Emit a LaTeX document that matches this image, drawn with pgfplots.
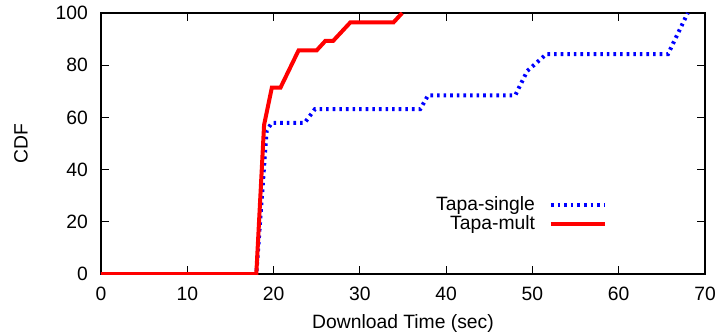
\documentclass[border=0pt]{standalone}
\usepackage{fontspec}
\setmainfont{Liberation Sans}
\usepackage{pgfplots}
\pgfplotsset{compat=1.18}
\begin{document}
\fontsize{19.3bp}{23bp}\selectfont
\begin{tikzpicture}
\begin{axis}[
  scale only axis, width=604bp, height=261bp,
  xmin=0, xmax=70, ymin=0, ymax=100,
  xtick={0,10,...,70}, ytick={0,20,...,100},
  /pgf/number format/assume math mode=true,
  axis line style={line width=1.1bp, black},
  major tick length=8bp,
  every tick/.style={line width=1.1bp, black},
  tick align=inside,
  xticklabel style={anchor=base, inner sep=0pt, yshift=-26bp},
  yticklabel style={anchor=east, inner sep=0pt, xshift=-13bp},
  xlabel={Download Time (sec)},
  ylabel={CDF},
  xlabel style={at={(axis description cs:0.5,-0.2107)}, anchor=base, inner sep=0pt},
  ylabel style={at={(axis description cs:-0.1325,0.5)}, anchor=center, inner sep=0pt},
  legend plot pos=right,
  legend cell align=right,
  legend image code/.code={\draw[#1] (0bp,0bp) -- (54bp,0bp);},
  legend style={at={(axis description cs:0.838,0.228)}, anchor=east, draw=none, fill=none,
    inner sep=0pt, column sep=14bp, row sep=1.5bp, nodes={inner sep=0pt}},
]
\addplot[blue, line width=4bp, dash pattern=on 2.6bp off 4bp] coordinates {
(0,0) (18,0) (19.2,55) (19.8,57.9) (23.6,57.9) (24.8,63.2) (37,63.2) (37.9,68.4)
(48,68.4) (49.4,77.8) (51.6,84.2) (65.7,84.2) (68,100)
};
\addlegendentry{Tapa-single}
\addplot[red, line width=4bp] coordinates {
(0,0) (18,0) (18.9,57.1) (19.8,71.4) (20.8,71.4) (22.9,85.7) (25,85.7) (26,89.3)
(26.9,89.3) (28.9,96.4) (33.9,96.4) (34.9,100)
};
\addlegendentry{Tapa-mult}
\coordinate (sw) at (rel axis cs:0,0);
\coordinate (ne) at (rel axis cs:1,1);
\end{axis}
\pgfresetboundingbox
\path[use as bounding box] ([shift={(-101bp,-59bp)}]sw) rectangle ([shift={(16bp,13bp)}]ne);
\end{tikzpicture}
\end{document}
